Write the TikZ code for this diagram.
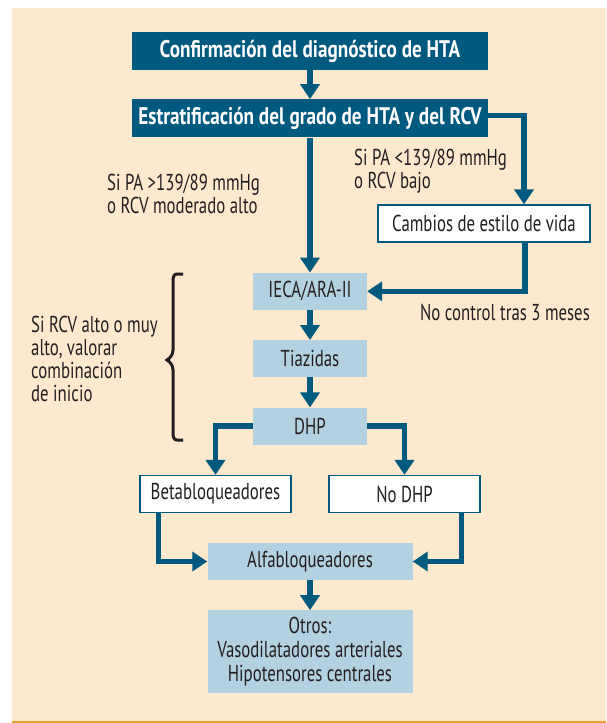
\documentclass[tikz,border=0pt]{standalone}
\usepackage{fontspec}
\setmainfont[FakeStretch=0.73, BoldFeatures={FakeStretch=0.8}]{PT Sans}
\usetikzlibrary{arrows.meta, positioning, calc}
\definecolor{hta}{HTML}{00597F}
\definecolor{drugblue}{HTML}{B2D2E2}
\definecolor{paper}{HTML}{FDE9CD}
\definecolor{rule}{HTML}{F0A22E}
\definecolor{ink}{HTML}{231F20}

\begin{document}
\begin{tikzpicture}[
    x=1pt, y=-1pt,
    >={Triangle[width=19pt,length=15pt]},
    node distance=30pt,
    font=\fontsize{23}{23}\selectfont,
    text=ink,
    % Styles
    head/.style={fill=hta, text=white, font=\fontsize{24}{24}\selectfont\bfseries, minimum width=356pt, minimum height=38pt, inner sep=0pt},
    drug/.style={fill=drugblue, minimum width=114pt, minimum height=37pt, inner sep=0pt, align=center},
    option/.style={draw=hta, line width=1.2pt, fill=white, minimum width=151pt, minimum height=37pt, inner sep=0pt},
    flow/.style={->, draw=hta, line width=5.5pt},
    note/.style={align=left, inner sep=0pt},
    brace/.style={draw=ink, line width=3pt}
]
\useasboundingbox (0,0) rectangle (606,723);

% Background
\fill[paper] (12,8) rectangle (606,721);
\draw[rule, line width=2.5pt] (12,722) -- (606,722);

% 1. Diagnosis and stratification
\node[head] (conf) at (310,51) {Confirmación del diagnóstico de HTA};
\node[head, below=29pt of conf] (estrat) {Estratificación del grado de HTA y del RCV};
\node[option, minimum width=212pt] (cambios) at (484,223.5) {Cambios de estilo de vida};

\node[note, anchor=west] (sialto) at (107,194) {Si PA >139/89 mmHg\\o RCV moderado alto};
\node[note, anchor=west] (sibajo) at (354,171.5) {Si PA <139/89 mmHg\\o RCV bajo};

\draw[flow] (conf) -- (estrat);
\draw[flow] ([yshift=3pt]estrat.east) -| ([xshift=40pt]cambios.north);

% 2. Drug sequence
\node[drug, below=135pt of estrat] (ieca) {IECA/ARA-II};
\node[drug, below=30pt of ieca] (tiaz) {Tiazidas};
\node[drug, below=30pt of tiaz] (dhp) {DHP};
\node[note] (nocontrol) at (505,312) {No control tras 3 meses};

\draw[flow] (estrat) -- (ieca);
\draw[flow] ([xshift=41pt]cambios.south) |- (ieca.east);
\draw[flow] (ieca) -- (tiaz);
\draw[flow] (tiaz) -- (dhp);

% 3. Combination note
\node[note, anchor=west] (combi) at (31,358.5) {Si RCV alto o muy\\alto, valorar\\combinación\\de inicio};
\draw[brace] (183,274) -- (177,274) .. controls (174,274) and (173,277) .. (173,281) -- (173,350)
    .. controls (173,355) and (170,358) .. (167,360) .. controls (170,362) and (173,365) .. (173,370)
    -- (173,433) .. controls (173,437) and (174,440) .. (177,440) -- (183,440);

% 4. Alternatives
\node[option] (beta) at (215.5,494) {Betabloqueadores};
\node[option] (nodhp) at (404.5,494) {No DHP};
\node[drug, minimum width=205pt, below=98pt of dhp] (alfa) {Alfabloqueadores};
\node[drug, minimum width=205pt, minimum height=83pt, below=30pt of alfa, font=\fontsize{23}{24}\selectfont] (otros) {Otros:\\Vasodilatadores arteriales\\Hipotensores centrales};

\draw[flow] (dhp.west) -| (beta.north);
\draw[flow] (dhp.east) -| (nodhp.north);
\draw[flow] ([xshift=-57pt]beta.south) |- (alfa.west);
\draw[flow] ([xshift=57pt]nodhp.south) |- (alfa.east);
\draw[flow] (alfa) -- (otros);

\end{tikzpicture}
\end{document}
